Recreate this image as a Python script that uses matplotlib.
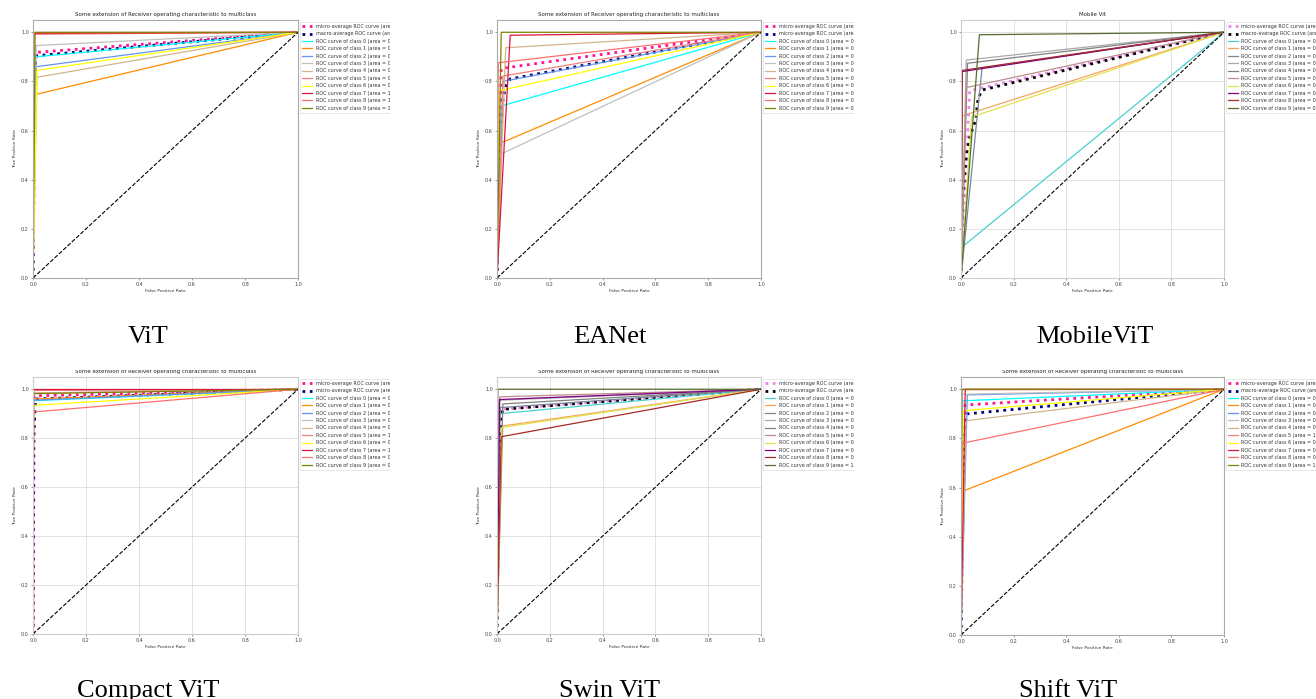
import numpy as np
import matplotlib
matplotlib.use("Agg")
import matplotlib.pyplot as plt
from matplotlib.patches import Rectangle

W, H = 1316, 699

# ---------------- data (knee points of each ROC curve) ----------------
class_names = [f"class {i}" for i in range(10)]

vit_fpr = [0.008, 0.010, 0.012, 0.012, 0.015, 0.004, 0.015, 0.002, 0.001, 0.008]
vit_tpr = [0.900, 0.747, 0.860, 0.946, 0.817, 0.992, 0.845, 0.995, 0.998, 1.000]
vit_micro_fpr = [0.0, 0.0095, 1.0]
vit_micro_tpr = [0.0, 0.918, 1.0]
vit_macro_fpr = [0.0, 0.004, 0.010, 0.015, 1.0]
vit_macro_tpr = [0.0, 0.60, 0.885, 0.905, 1.0]

eanet_fpr = [0.016, 0.016, 0.022, 0.016, 0.033, 0.023, 0.008, 0.050, 0.005, 0.016]
eanet_tpr = [0.700, 0.550, 0.800, 0.505, 0.937, 0.822, 0.762, 0.988, 0.876, 1.000]
eanet_micro_fpr = [0.0, 0.016, 1.0]
eanet_micro_tpr = [0.0, 0.853, 1.0]
eanet_macro_fpr = [0.0, 0.005, 0.016, 0.023, 0.033, 0.050, 1.0]
eanet_macro_tpr = [0.0, 0.25, 0.62, 0.73, 0.78, 0.81, 1.0]

mobile_fpr = [0.003, 0.005, 0.080, 0.020, 0.025, 0.020, 0.040, 0.004, 0.005, 0.070]
mobile_tpr = [0.125, 0.660, 0.855, 0.887, 0.874, 0.775, 0.655, 0.840, 0.845, 0.990]
mobile_micro_fpr = [0.0, 0.033, 1.0]
mobile_micro_tpr = [0.0, 0.762, 1.0]
mobile_macro_fpr = [0.0, 0.004, 0.020, 0.035, 0.055, 0.065, 0.080, 1.0]
mobile_macro_tpr = [0.0, 0.30, 0.50, 0.58, 0.64, 0.73, 0.765, 1.0]

compact_fpr = [0.002, 0.002, 0.002, 0.002, 0.002, 0.001, 0.002, 0.000, 0.002, 0.002]
compact_tpr = [0.953, 0.960, 0.955, 0.985, 0.984, 0.995, 0.934, 1.000, 0.907, 0.982]
compact_micro_fpr = [0.0, 0.005, 1.0]
compact_micro_tpr = [0.0, 0.973, 1.0]
compact_macro_fpr = [0.0, 0.002, 0.010, 1.0]
compact_macro_tpr = [0.0, 0.80, 0.960, 1.0]

swin_fpr = [0.010, 0.022, 0.012, 0.008, 0.022, 0.010, 0.018, 0.010, 0.016, 0.003]
swin_tpr = [0.900, 0.850, 0.925, 0.955, 0.940, 0.969, 0.844, 0.958, 0.806, 1.000]
swin_micro_fpr = [0.0, 0.012, 1.0]
swin_micro_tpr = [0.0, 0.918, 1.0]
swin_macro_fpr = [0.0, 0.003, 0.010, 0.016, 0.022, 1.0]
swin_macro_tpr = [0.0, 0.30, 0.75, 0.887, 0.918, 1.0]

shift_fpr = [0.006, 0.011, 0.024, 0.004, 0.019, 0.003, 0.009, 0.016, 0.003, 0.003]
shift_tpr = [0.953, 0.587, 0.977, 0.980, 0.872, 0.998, 0.913, 1.000, 0.780, 1.000]
shift_micro_fpr = [0.0, 0.015, 1.0]
shift_micro_tpr = [0.0, 0.936, 1.0]
shift_macro_fpr = [0.0, 0.003, 0.011, 0.019, 0.024, 1.0]
shift_macro_tpr = [0.0, 0.50, 0.80, 0.88, 0.90, 1.0]

captions = ["ViT", "EANet", "MobileViT", "Compact ViT", "Swin ViT", "Shift ViT"]
long_title = "Some extension of Receiver operating characteristic to multiclass"
titles = [long_title, long_title, "Mobile Vit", long_title, long_title, long_title]
avg_names = [("micro", "macro"), ("micro", "micro"), ("micro", "macro"),
             ("micro", "micro"), ("micro", "micro"), ("micro", "macro")]

colors_a = ['aqua', 'darkorange', 'cornflowerblue', 'silver', 'tan',
            'lightcoral', 'yellow', 'crimson', '#ff6f6f', 'olive']
colors_b = ['mediumturquoise', 'sandybrown', 'lightslategray', 'darkgray', 'gray',
            'rosybrown', '#e2e24a', 'purple', 'brown', 'darkolivegreen']
avg_a = ('deeppink', 'navy')
avg_b = ('violet', 'black')

# ---------------- layout (pixel boxes: left, top, right, bottom) -------
boxes = [(33, 20, 298, 278), (497, 20, 761, 278), (961, 20, 1224, 278),
         (33, 377, 298, 634), (497, 377, 761, 634), (961, 377, 1224, 635)]
grids = [False, False, True, True, True, False]
palettes = [colors_a, colors_a, colors_b, colors_a, colors_b, colors_a]
avg_cols = [avg_a, avg_a, avg_b, avg_a, avg_b, avg_a]
caption_pos = [(148, 343), (610, 343), (1095, 343), (148, 697), (610, 697), (1068, 697)]

panels = [
    (vit_fpr, vit_tpr, vit_micro_fpr, vit_micro_tpr, vit_macro_fpr, vit_macro_tpr),
    (eanet_fpr, eanet_tpr, eanet_micro_fpr, eanet_micro_tpr, eanet_macro_fpr, eanet_macro_tpr),
    (mobile_fpr, mobile_tpr, mobile_micro_fpr, mobile_micro_tpr, mobile_macro_fpr, mobile_macro_tpr),
    (compact_fpr, compact_tpr, compact_micro_fpr, compact_micro_tpr, compact_macro_fpr, compact_macro_tpr),
    (swin_fpr, swin_tpr, swin_micro_fpr, swin_micro_tpr, swin_macro_fpr, swin_macro_tpr),
    (shift_fpr, shift_tpr, shift_micro_fpr, shift_micro_tpr, shift_macro_fpr, shift_macro_tpr),
]

fig = plt.figure(figsize=(W / 100, H / 100), dpi=100)
fig.patch.set_facecolor('white')


def auc(x, y):
    return float(np.trapezoid(y, x))


for k, (fpr, tpr, mif, mit, maf, mat) in enumerate(panels):
    l, t, r, b = boxes[k]
    ax = fig.add_axes([l / W, 1 - b / H, (r - l) / W, (b - t) / H])
    ax.set_facecolor('white')
    cols = palettes[k]
    c_mi, c_ma = avg_cols[k]
    n1, n2 = avg_names[k]
    ax.plot(mif, mit, color=c_mi, linestyle=':', linewidth=2.0,
            label=f"{n1}-average ROC curve (area = {auc(mif, mit):.2f})")
    ax.plot(maf, mat, color=c_ma, linestyle=':', linewidth=2.0,
            label=f"{n2}-average ROC curve (area = {auc(maf, mat):.2f})")
    for i in range(10):
        xs = [0.0, fpr[i], 1.0]
        ys = [0.0, tpr[i], 1.0]
        ax.plot(xs, ys, color=cols[i], linewidth=0.9,
                label=f"ROC curve of {class_names[i]} (area = {auc(xs, ys):.2f})")
    ax.plot([0, 1], [0, 1], 'k--', linewidth=0.8)
    ax.set_xlim(0.0, 1.0)
    ax.set_ylim(0.0, 1.05)
    ax.set_xticks([0, 0.2, 0.4, 0.6, 0.8, 1.0])
    ax.set_yticks([0, 0.2, 0.4, 0.6, 0.8, 1.0])
    ax.tick_params(labelsize=3.5, length=1.5, width=0.4, pad=1.5, colors='#444444')
    ax.set_xlabel("False Positive Rate", fontsize=3.2, labelpad=1.5, color='#333333')
    ax.set_ylabel("True Positive Rate", fontsize=3.2, labelpad=3, color='#333333')
    ax.set_title(titles[k], fontsize=4, pad=3, color='#222222')
    if grids[k]:
        ax.grid(True, color='#dddddd', linewidth=0.6)
        ax.set_axisbelow(True)
        spc = '#cccccc'
    else:
        spc = '#aaaaaa'
    for s in ax.spines.values():
        s.set_color(spc)
        s.set_linewidth(0.8)
    leg = ax.legend(loc='upper left', bbox_to_anchor=(1.0, 1.0), fontsize=3.5,
                    borderaxespad=0.4, handlelength=2.0, labelspacing=0.5,
                    fancybox=False, framealpha=1.0)
    leg.get_frame().set_edgecolor('#dddddd')
    leg.get_frame().set_linewidth(0.5)
    for txt in leg.get_texts():
        txt.set_color('#333333')

# masks that reproduce the cropping of the original panels
def mask(x0, y0, x1, y1):
    fig.add_artist(Rectangle((x0 / W, 1 - y1 / H), (x1 - x0) / W, (y1 - y0) / H,
                             transform=fig.transFigure, facecolor='white',
                             edgecolor='none', zorder=100))

mask(390, 10, 482, 125)
mask(390, 370, 482, 485)
mask(854, 10, 946, 125)
mask(854, 370, 946, 485)
mask(0, 349, W, 369.5)

for (cx, cy), cap in zip(caption_pos, captions):
    fig.text(cx / W, 1 - cy / H, cap, ha='center', va='baseline', fontsize=19,
             family='Liberation Serif', color='black', zorder=101)

fig.savefig("out.png", dpi=100)
